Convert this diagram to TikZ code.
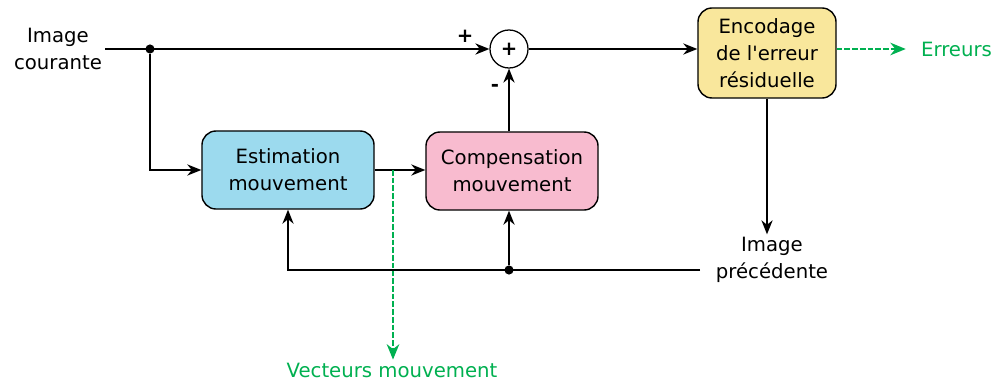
\documentclass[tikz,border=0pt]{standalone}
\usepackage{fontspec}
\setmainfont{DejaVu Sans}[Ligatures=TeXOff]
\usepackage{tikz}
\usetikzlibrary{arrows.meta, positioning, calc}
\usepackage{xcolor}
\definecolor{estblue}{HTML}{9CDAEE}
\definecolor{comppink}{HTML}{F8BBCF}
\definecolor{encyellow}{HTML}{F9E79C}
\definecolor{outgreen}{HTML}{00B050}

\begin{document}
\begin{tikzpicture}[
  x=0.025cm, y=-0.025cm,
  every node/.style={font=\fontsize{14}{19}\selectfont},
  block/.style={rectangle, draw, line width=1pt, rounded corners=10pt,
                minimum width=4.3cm, minimum height=1.95cm,
                align=center, inner sep=3pt},
  lbl/.style={align=center, inner sep=2pt},
  sumnode/.style={circle, draw, line width=0.9pt, minimum size=0.95cm, inner sep=0pt},
  dot/.style={circle, fill, inner sep=0pt, minimum size=6.5pt},
  arrow/.style={-{Stealth[length=10pt, width=8pt]}, line width=1pt},
  outarrow/.style={-{Stealth[length=11pt, width=9pt]}, dash pattern=on 4pt off 1.5pt,
                   line width=1pt, color=outgreen}
]
\useasboundingbox (0,0) rectangle (1004,381);
% top row
\node[lbl]                                (cur)  at (58,49)   {Image\\courante};
\node[sumnode]                            (sum)  at (509,49)  {\textbf{+}};
\node[block, fill=encyellow, minimum width=3.45cm, minimum height=2.25cm]
                                          (enc)  at (767,53)  {Encodage\\de l'erreur\\résiduelle};
\node[lbl, text=outgreen, anchor=west]    (err)  at (918,49)  {Erreurs};
\node[dot]                                (d1)   at (150,49)  {};
\node[font=\fontsize{14}{19}\selectfont\bfseries] (plus)  at (465,36) {+};
\node[font=\fontsize{14}{19}\selectfont\bfseries] (minus) at (495,88) {-};
% middle row
\node[block, fill=estblue]                (est)  at (288,170) {Estimation\\mouvement};
\node[block, fill=comppink]               (comp) at (512,171) {Compensation\\mouvement};
\node[lbl]                                (prev) at (772,260) {Image\\précédente};
\node[lbl, text=outgreen]                 (vec)  at (392,370) {Vecteurs mouvement};
\coordinate (vtap) at (393,170);
\coordinate (fb)   at (700,270);
\node[dot]                                (d2)   at (509,270) {};

\draw[arrow] (cur.east) -- (sum.west);
\draw[arrow] (sum.east) -- (enc.west |- sum.east);
\draw[outarrow] (enc.east |- err.west) -- ++(69,0);
\draw[arrow] (d1) |- (est.west);
\draw[arrow] (est.east) -- (comp.west |- est.east);
\draw[outarrow] (vtap) -- (vec.north -| vtap);
\draw[arrow] (comp.north -| sum.south) -- (sum.south);
\draw[arrow] (enc.south) -- (prev.north -| enc.south);
% feedback of the previous image
\draw[arrow] (fb) -| (est.south);
\draw[arrow] (d2) -- (comp.south -| d2);
\end{tikzpicture}
\end{document}
